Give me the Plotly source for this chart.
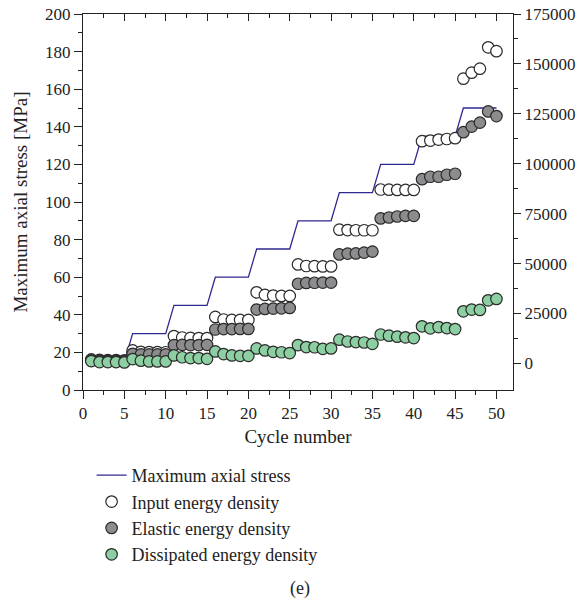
import plotly.graph_objects as go

cycles = list(range(1, 51))
stress = [15]*5 + [30]*5 + [45]*5 + [60]*5 + [75]*5 + [90]*5 + [105]*5 + [120]*5 + [135]*5 + [150]*5

input_energy = [
    2000, 1800, 1700, 1700, 1600,
    6500, 5800, 5700, 5700, 5600,
    13700, 13000, 12800, 12700, 12700,
    23300, 22000, 21800, 21800, 21800,
    35600, 34300, 34000, 33800, 33800,
    49600, 48800, 48700, 48600, 48600,
    67000, 66800, 66700, 66700, 66700,
    87100, 87000, 86900, 86900, 86900,
    111300, 111600, 112100, 112400, 112800,
    142600, 145600, 147600, 158300, 156400]

elastic_energy = [
    1500, 1300, 1300, 1300, 1200,
    4800, 4500, 4500, 4500, 4500,
    9200, 9300, 9200, 9200, 9300,
    17000, 17200, 17200, 17300, 17300,
    27000, 27300, 27500, 27600, 27800,
    39900, 40300, 40400, 40500, 40500,
    54600, 55000, 55100, 55500, 56000,
    72600, 73100, 73600, 73900, 73900,
    92300, 93500, 93500, 94500, 95000,
    115800, 118600, 120600, 126200, 123900]

dissipated_energy = [
    1200, 700, 700, 700, 500,
    2200, 1400, 1000, 1000, 1000,
    4000, 3100, 2700, 2700, 2300,
    6000, 4700, 4000, 3800, 3800,
    7500, 6500, 5800, 5600, 5200,
    9200, 8200, 8100, 7300, 7500,
    11900, 11000, 10700, 10500, 9800,
    14500, 13900, 13400, 13100, 12700,
    18600, 17600, 18200, 17700, 17200,
    26100, 27000, 26800, 31600, 32300]

FONT = "Liberation Serif"
LINE_COL = "#2f2a90"
EDGE = "#2b2b2b"
TXT = "#222"

fig = go.Figure()

fig.add_trace(go.Scatter(
    x=cycles, y=stress, mode="lines", name="Maximum axial stress",
    line=dict(color=LINE_COL, width=1.3), xaxis="x", yaxis="y"))

for name, vals, col in [("Input energy density", input_energy, "#ffffff"),
                        ("Elastic energy density", elastic_energy, "#8c8c8e"),
                        ("Dissipated energy density", dissipated_energy, "#8ccfa2")]:
    fig.add_trace(go.Scatter(
        x=cycles, y=vals, mode="markers", name=name,
        marker=dict(symbol="circle", size=11.5, color=col,
                    line=dict(color=EDGE, width=1.2)),
        xaxis="x", yaxis="y2"))

# dummy trace to realise the top axis
fig.add_trace(go.Scatter(x=[0], y=[0], mode="markers", marker=dict(opacity=0, size=1),
                         showlegend=False, hoverinfo="skip", xaxis="x2", yaxis="y"))

tickfont = dict(family=FONT, size=17, color=TXT)
titlefont = dict(family=FONT, size=19, color=TXT)

fig.update_layout(
    width=583, height=603,
    paper_bgcolor="white", plot_bgcolor="white",
    margin=dict(l=83, r=70, t=14, b=213, autoexpand=False),
    font=dict(family=FONT, color=TXT),
    xaxis=dict(range=[0, 52], tickvals=list(range(0, 51, 5)), ticks="outside",
               ticklen=8, tickwidth=1, tickcolor=TXT,
               minor=dict(tickvals=[2.5 + 5*i for i in range(10)], ticks="outside",
                          ticklen=4, tickcolor=TXT),
               showline=True, linecolor=TXT, linewidth=1, showgrid=False, zeroline=False,
               tickfont=tickfont, automargin=False, ticklabeloverflow="allow",
               title=dict(text="Cycle number", font=titlefont, standoff=7)),
    xaxis2=dict(range=[0, 52], overlaying="x", side="top", anchor="y",
                tickvals=list(range(0, 51, 5)), ticks="inside", ticklen=7, tickcolor=TXT,
                minor=dict(tickvals=[2.5 + 5*i for i in range(10)], ticks="inside",
                           ticklen=4, tickcolor=TXT),
                showticklabels=False, showline=True, linecolor=TXT, linewidth=1,
                showgrid=False, zeroline=False, automargin=False),
    yaxis=dict(range=[0, 200], tickvals=list(range(0, 201, 20)), ticks="outside",
               ticklen=8, tickcolor=TXT,
               minor=dict(tickvals=list(range(10, 200, 20)), ticks="outside",
                          ticklen=4, tickcolor=TXT),
               showline=True, linecolor=TXT, linewidth=1, showgrid=False, zeroline=False,
               tickfont=tickfont, automargin=False, ticklabeloverflow="allow",
               title=dict(text="Maximum axial stress [MPa]", font=titlefont, standoff=12)),
    yaxis2=dict(range=[-13300, 175000], overlaying="y", side="right", anchor="x",
                tickvals=list(range(0, 175001, 25000)), tickformat="d",
                ticks="outside", ticklen=7, tickcolor=TXT,
                minor=dict(tickvals=[12500 + 25000*i for i in range(7)], ticks="outside",
                           ticklen=4, tickcolor=TXT),
                showline=True, linecolor=TXT, linewidth=1, showgrid=False, zeroline=False,
                tickfont=tickfont, automargin=False, ticklabeloverflow="allow"),
    legend=dict(x=0.02, y=-0.178, xanchor="left", yanchor="top",
                font=dict(family=FONT, size=18, color=TXT),
                bgcolor="rgba(0,0,0,0)", tracegroupgap=0, itemwidth=30),
    showlegend=True,
    annotations=[dict(text="(e)", x=0.505, y=-0.527, xref="paper", yref="paper",
                      xanchor="center", yanchor="middle",
                      showarrow=False, font=dict(family=FONT, size=18, color=TXT))],
)

fig.write_html("out.html", config={"displayModeBar": False},
               post_script="document.body.style.margin='0px';")
